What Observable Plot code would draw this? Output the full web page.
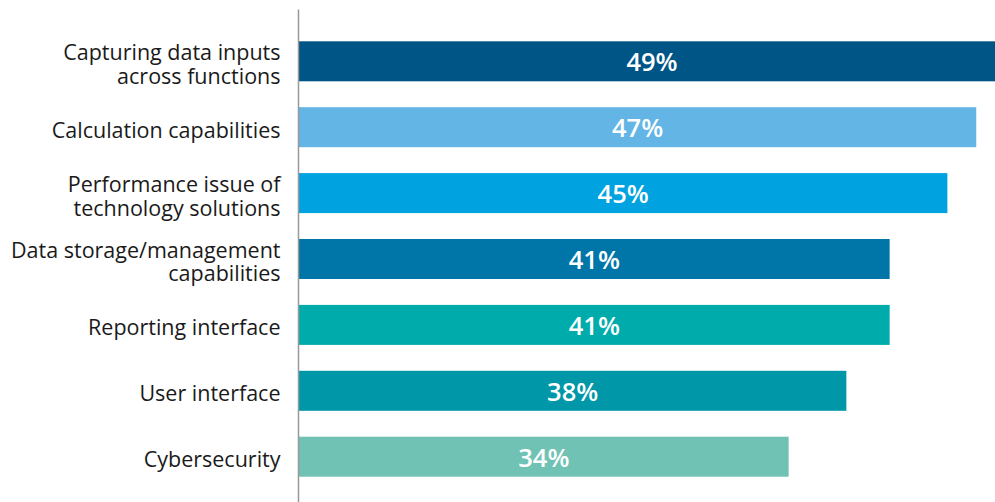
<!DOCTYPE html>
<html>
<head>
<meta charset="utf-8">
<script src="https://cdn.jsdelivr.net/npm/d3@7"></script>
<script src="https://cdn.jsdelivr.net/npm/@observablehq/plot@0.6"></script>
<style>
  html, body { margin: 0; padding: 0; background: #fff; }
  #chart { width: 995px; height: 502px; overflow: hidden; }
</style>
</head>
<body>
<div id="chart"></div>
<script>
const categories = [
  "Capturing data inputs\nacross functions",
  "Calculation capabilities",
  "Performance issue of\ntechnology solutions",
  "Data storage/management\ncapabilities",
  "Reporting interface",
  "User interface",
  "Cybersecurity"
];
const values = [49, 47, 45, 41, 41, 38, 34];
const colors = ["#005587", "#62b5e5", "#00a3e0", "#0076a8", "#00abab", "#0097a9", "#6fc2b4"];

const data = categories.map((c, i) => ({category: c, value: values[i], color: colors[i]}));

const chart = Plot.plot({
  width: 995,
  height: 502,
  marginLeft: 298,
  marginRight: 0,
  marginTop: 16,
  marginBottom: 0,
  style: {fontFamily: "'Open Sans', sans-serif", background: "#fff"},
  x: {domain: [0, 48.3], clamp: true, axis: null},
  y: {domain: categories, paddingInner: 0.393, paddingOuter: 0.384, round: false, axis: null},
  marks: [
    Plot.barX(data, {x: "value", y: "category", fill: "color"}),
    Plot.ruleX([0], {stroke: "#999", strokeWidth: 1.5, insetTop: -6.5}),
    Plot.text(data, {
      y: "category", frameAnchor: "left", text: "category", textAnchor: "end",
      dx: -18, dy: 2.5, fontSize: 21.5, lineHeight: 1.1, fill: "#1a1a1a"
    }),
    Plot.text(data, {
      x: d => d.value / 2, y: "category", text: d => d.value + "%",
      fill: "#fff", fontWeight: 600, fontSize: 25.5, dy: 1.5
    })
  ]
});
document.getElementById("chart").appendChild(chart);
</script>
</body>
</html>
